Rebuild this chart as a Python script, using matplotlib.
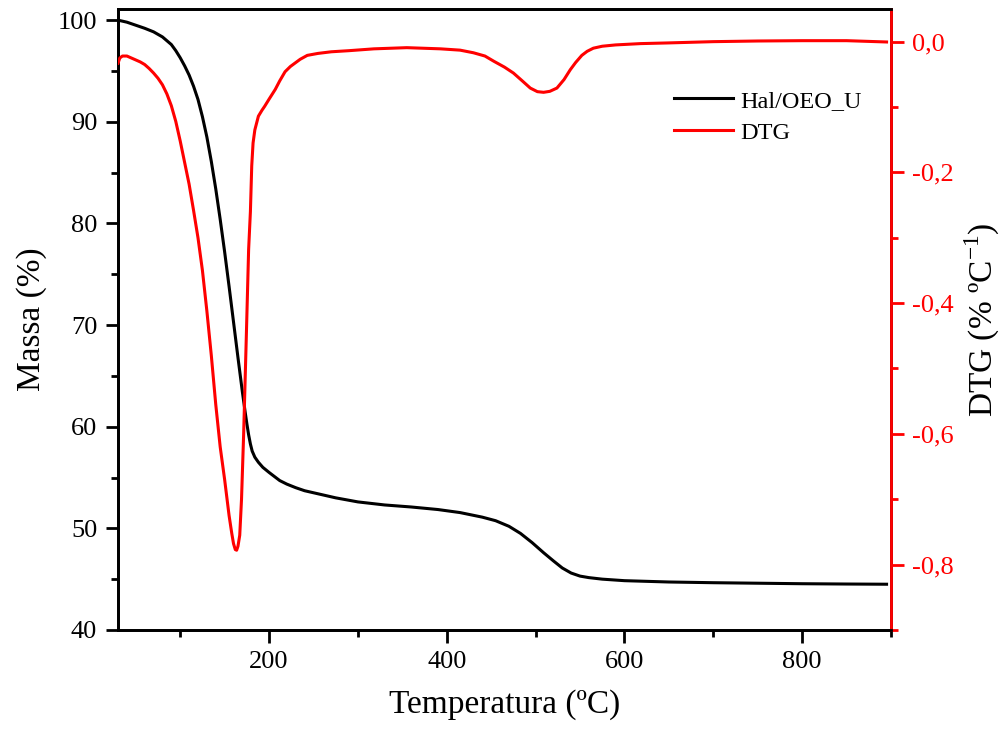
import matplotlib
matplotlib.use("Agg")
import matplotlib.pyplot as plt
from matplotlib.ticker import MultipleLocator, FuncFormatter

plt.rcParams['font.family'] = ['Liberation Serif', 'DejaVu Serif']
plt.rcParams['mathtext.fontset'] = 'custom'
plt.rcParams['mathtext.rm'] = 'Liberation Serif'

# Thermogravimetric curve (mass %) vs temperature
temp_mass = [30, 40, 50, 60, 70, 80, 90, 95, 100, 105, 110, 115, 120, 125,
             130, 135, 140, 145, 150, 155, 160, 165, 170, 173, 175, 177, 179,
             181, 184, 188, 193, 200, 206, 212, 220, 230, 240, 250, 275, 300,
             330, 360, 390, 415, 440, 455, 470, 483, 496, 509, 520, 530, 540,
             550, 560, 575, 600, 650, 700, 750, 800, 850, 895]
mass = [100.0, 99.8, 99.5, 99.2, 98.85, 98.35, 97.6, 97.0, 96.3, 95.5, 94.6,
        93.5, 92.2, 90.5, 88.5, 86.1, 83.4, 80.4, 77.2, 73.8, 70.3, 66.8,
        63.4, 61.5, 60.3, 59.2, 58.3, 57.6, 57.0, 56.5, 56.0, 55.5, 55.1,
        54.7, 54.35, 54.0, 53.7, 53.5, 53.0, 52.6, 52.3, 52.1, 51.85, 51.55,
        51.1, 50.75, 50.2, 49.5, 48.6, 47.6, 46.8, 46.1, 45.6, 45.3, 45.15,
        45.0, 44.85, 44.72, 44.65, 44.6, 44.55, 44.52, 44.5]

# Derivative curve (DTG, % per ºC)
temp_dtg = [30, 32, 35, 40, 45, 50, 55, 60, 65, 70, 75, 80, 85, 90, 95, 100,
            105, 110, 115, 120, 125, 130, 135, 140, 145, 150, 155, 158, 160,
            162, 163.5, 165, 167, 169, 171.4, 174.5, 177, 179, 180.5, 182, 184,
            188, 192, 195, 200, 207, 212, 218, 224, 229, 235, 243, 255, 270,
            290, 318, 355, 393, 415, 430, 443, 453, 465, 475, 485, 494, 502,
            509, 516, 524, 532, 539, 545, 552, 558, 565, 575, 590, 618, 648,
            700, 750, 800, 850, 895]
dtg = [-0.033, -0.025, -0.022, -0.022, -0.025, -0.028, -0.031, -0.035, -0.041,
       -0.048, -0.056, -0.066, -0.080, -0.098, -0.122, -0.152, -0.185, -0.218,
       -0.258, -0.300, -0.350, -0.412, -0.480, -0.555, -0.620, -0.670, -0.725,
       -0.752, -0.768, -0.777, -0.778, -0.772, -0.755, -0.700, -0.600, -0.446,
       -0.318, -0.260, -0.190, -0.155, -0.135, -0.114, -0.105, -0.099, -0.088,
       -0.073, -0.060, -0.046, -0.038, -0.033, -0.027, -0.021, -0.018, -0.0155,
       -0.0138, -0.011, -0.0092, -0.011, -0.013, -0.017, -0.022, -0.030,
       -0.039, -0.048, -0.060, -0.071, -0.0765, -0.0775, -0.076, -0.071,
       -0.058, -0.043, -0.032, -0.021, -0.0148, -0.010, -0.007, -0.005,
       -0.003, -0.002, 0.0, 0.001, 0.0015, 0.0015, -0.0005]

mass_label = "Hal/OEO_U"
dtg_label = "DTG"

fig = plt.figure(figsize=(10.07, 7.35), dpi=100)
ax = fig.add_axes([0.1172, 0.1429, 0.7676, 0.8449])
ax2 = ax.twinx()

l1, = ax.plot(temp_mass, mass, color='black', lw=2.2, label=mass_label, zorder=3)
l2, = ax2.plot(temp_dtg, dtg, color='red', lw=2.2, label=dtg_label, zorder=3)

ax.set_xlim(30, 900)
ax.set_ylim(40, 101.1)
ax2.set_ylim(-0.9, 0.05)

ax.xaxis.set_major_locator(MultipleLocator(200))
ax.xaxis.set_minor_locator(MultipleLocator(100))
ax.yaxis.set_major_locator(MultipleLocator(10))
ax.yaxis.set_minor_locator(MultipleLocator(5))
ax2.yaxis.set_major_locator(MultipleLocator(0.2))
ax2.yaxis.set_minor_locator(MultipleLocator(0.1))
ax2.yaxis.set_major_formatter(FuncFormatter(lambda v, p: f"{v:.1f}".replace('.', ',').replace('\u2212', '-')))

for a in (ax, ax2):
    for s in a.spines.values():
        s.set_linewidth(2.0)

ax.tick_params(axis='both', which='major', direction='out', length=9, width=2,
               labelsize=19, pad=6)
ax.tick_params(axis='both', which='minor', direction='out', length=5, width=2)
ax.tick_params(top=False, right=False, which='both')

ax2.spines['right'].set_color('red')
ax2.tick_params(axis='y', which='major', direction='out', length=9, width=2,
                colors='red', labelsize=19, pad=6)
ax2.tick_params(axis='y', which='minor', direction='out', length=5, width=2,
                colors='red')

ax.set_xlabel("Temperatura (ºC)", fontsize=24, labelpad=12)
ax.set_ylabel("Massa (%)", fontsize=24, labelpad=8)
ax2.set_ylabel("DTG (% ºC$^{-1}$)", fontsize=24, labelpad=7)

ax2.legend(handles=[l1, l2], loc='upper left', bbox_to_anchor=(0.719, 0.870),
           frameon=False, fontsize=17.5, handlelength=2.45, handletextpad=0.28,
           borderpad=0, borderaxespad=0, labelspacing=0.42)

fig.savefig("out.png", dpi=100)
